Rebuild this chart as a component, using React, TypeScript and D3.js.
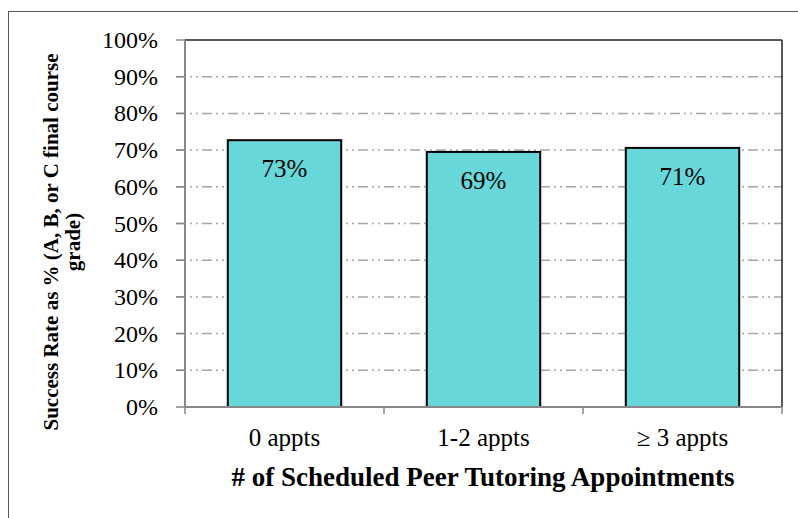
import * as d3 from 'd3';

const categories = ['0 appts', '1-2 appts', '\u2265 3 appts'];
const values = [0.727, 0.695, 0.706];
const valueLabels = ['73%', '69%', '71%'];
const yTicks = [0, 0.1, 0.2, 0.3, 0.4, 0.5, 0.6, 0.7, 0.8, 0.9, 1.0];

export default function App() {
  const width = 798;
  const height = 518;
  const left = 185;
  const right = 782;
  const top = 40;
  const bottom = 407;

  const x = d3.scaleBand<string>()
    .domain(categories)
    .range([left, right])
    .paddingInner(0.43)
    .paddingOuter(0.215);
  const y = d3.scaleLinear().domain([0, 1]).range([bottom, top]);
  const fmt = d3.format('.0%');
  const step = (right - left) / categories.length;
  const font = '"Liberation Serif", "Times New Roman", serif';

  return (
    <svg width={width} height={height} style={{ position: 'absolute', left: 0, top: 0 }}>
      <rect x={8.5} y={11.5} width={800} height={520} fill="white" stroke="#555" strokeWidth={1} />

      {/* gridlines */}
      {yTicks.slice(1, -1).map(t => (
        <line key={t} x1={176} x2={right} y1={y(t)} y2={y(t)}
          stroke="#a6a6a6" strokeWidth={1.5} strokeDasharray="10 4 2 4 2 4" />
      ))}

      {/* plot frame top/right */}
      <line x1={left} x2={right} y1={top} y2={top} stroke="#222" strokeWidth={1.5} />
      <line x1={right} x2={right} y1={top} y2={bottom} stroke="#222" strokeWidth={1.5} />

      {/* bars */}
      {categories.map((c, i) => (
        <g key={c}>
          <rect x={x(c)} y={y(values[i])} width={x.bandwidth()} height={bottom - y(values[i])}
            fill="#67d7d9" stroke="#000" strokeWidth={2} />
          <text x={(x(c) ?? 0) + x.bandwidth() / 2} y={y(values[i]) + 37}
            textAnchor="middle" fontFamily={font} fontSize={25} fill="#000">{valueLabels[i]}</text>
        </g>
      ))}

      {/* y axis */}
      <line x1={left} x2={left} y1={top} y2={bottom} stroke="#888" strokeWidth={2} />
      {yTicks.map(t => (
        <g key={t}>
          <line x1={176} x2={left} y1={y(t)} y2={y(t)} stroke="#888" strokeWidth={1.5} />
          <text x={158} y={y(t) + 8} textAnchor="end" fontFamily={font} fontSize={24} fill="#000">{fmt(t)}</text>
        </g>
      ))}

      {/* x axis */}
      <line x1={left} x2={right} y1={bottom} y2={bottom} stroke="#888" strokeWidth={2} />
      {d3.range(categories.length + 1).map(i => (
        <line key={i} x1={left + i * step} x2={left + i * step} y1={bottom} y2={bottom + 7} stroke="#888" strokeWidth={1.5} />
      ))}
      {categories.map(c => (
        <text key={c} x={(x(c) ?? 0) + x.bandwidth() / 2} y={446} textAnchor="middle"
          fontFamily={font} fontSize={25} fill="#000">{c}</text>
      ))}

      <text x={483} y={486} textAnchor="middle" fontFamily={font} fontSize={27} fontWeight="bold" fill="#000">
        # of Scheduled Peer Tutoring Appointments
      </text>

      <g transform="translate(58,242) rotate(-90)">
        <text x={0} y={0} textAnchor="middle" fontFamily={font} fontSize={21} fontWeight="bold" fill="#000">
          Success Rate as % (A, B, or C final course
        </text>
        <text x={0} y={22} textAnchor="middle" fontFamily={font} fontSize={21} fontWeight="bold" fill="#000">
          grade)
        </text>
      </g>
    </svg>
  );
}
